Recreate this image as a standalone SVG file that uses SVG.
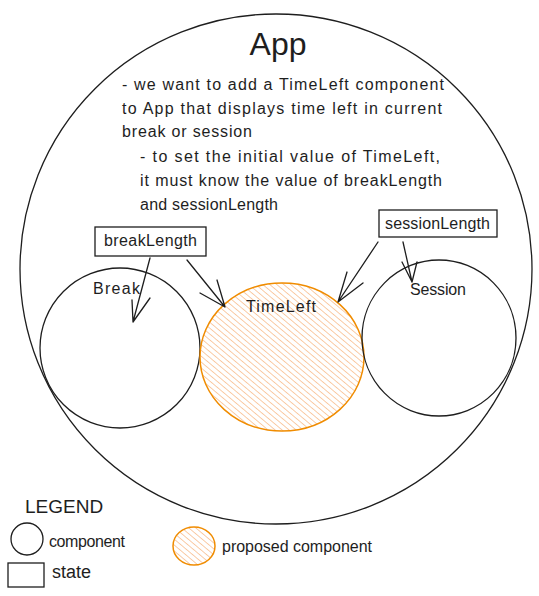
<svg xmlns="http://www.w3.org/2000/svg" width="539" height="596" viewBox="0 0 539 596">
<style>
.t{font-family:"Liberation Sans","DejaVu Sans",sans-serif;font-size:16px;fill:#1e1e1e}
.c{fill:none;stroke:#1e1e1e;stroke-width:1.3}
.o{fill:url(#hatch);stroke:#f08c00;stroke-width:1.5}
.a{fill:none;stroke:#1e1e1e;stroke-width:1.3;stroke-linecap:round;stroke-linejoin:round}
</style>
<defs>
<pattern id="hatch" patternUnits="userSpaceOnUse" width="4.5" height="4.5" patternTransform="rotate(-50)">
<rect width="4.5" height="4.5" fill="#fff"/>
<line x1="0" y1="0" x2="0" y2="4.5" stroke="#f7b27a" stroke-width="1.3"/>
</pattern>
</defs>
<rect width="539" height="596" fill="#fff"/>
<g id="app">
<ellipse class="c" cx="276" cy="269" rx="256" ry="255"/>
<text class="t" x="278" y="55" text-anchor="middle" style="font-size:32px">App</text>
<text class="t" x="122" y="90" textLength="322">- we want to add a TimeLeft component</text>
<text class="t" x="122" y="114" textLength="320">to App that displays time left in current</text>
<text class="t" x="122" y="137" textLength="130">break or session</text>
<text class="t" x="140" y="162" textLength="300">- to set the initial value of TimeLeft,</text>
<text class="t" x="140" y="186" textLength="302">it must know the value of breakLength</text>
<text class="t" x="140" y="210" textLength="138">and sessionLength</text>
</g>
<g id="break">
<circle class="c" cx="120" cy="348" r="80"/>
<text class="t" x="93" y="294" textLength="47">Break</text>
</g>
<g id="timeleft">
<ellipse class="o" cx="282" cy="357" rx="82" ry="74"/>
<text class="t" x="246" y="312" textLength="70">TimeLeft</text>
</g>
<g id="session">
<ellipse class="c" cx="439" cy="338" rx="77" ry="78"/>
<text class="t" x="410" y="295" textLength="56">Session</text>
</g>
<g id="breakLength">
<rect class="c" x="95" y="227" width="111" height="29"/>
<text class="t" x="104" y="246" textLength="93">breakLength</text>
</g>
<g id="sessionLength">
<rect class="c" x="379" y="210" width="118" height="27"/>
<text class="t" x="385" y="229" textLength="105">sessionLength</text>
</g>
<g id="connectors">
<path class="a" d="M150 258 L133 322 M132 300 L133 322 L150 298"/>
<path class="a" d="M187 260 L225 307 M217 280 L225 307 L200 293"/>
<path class="a" d="M378 242 L338 302 M347 272 L338 302 L363 283"/>
<path class="a" d="M403 242 L412 282 M402 262 L412 282 L417 262"/>
</g>
<g id="legend">
<text class="t" x="25" y="513" style="font-size:19px">LEGEND</text>
<circle class="c" cx="27" cy="539" r="16"/>
<text class="t" x="49" y="547" textLength="76">component</text>
<rect class="c" x="8" y="563" width="36" height="24"/>
<text class="t" x="52" y="578" style="font-size:18px">state</text>
<ellipse class="o" cx="194" cy="546" rx="21" ry="19"/>
<text class="t" x="222" y="552" textLength="150">proposed component</text>
</g>
</svg>
